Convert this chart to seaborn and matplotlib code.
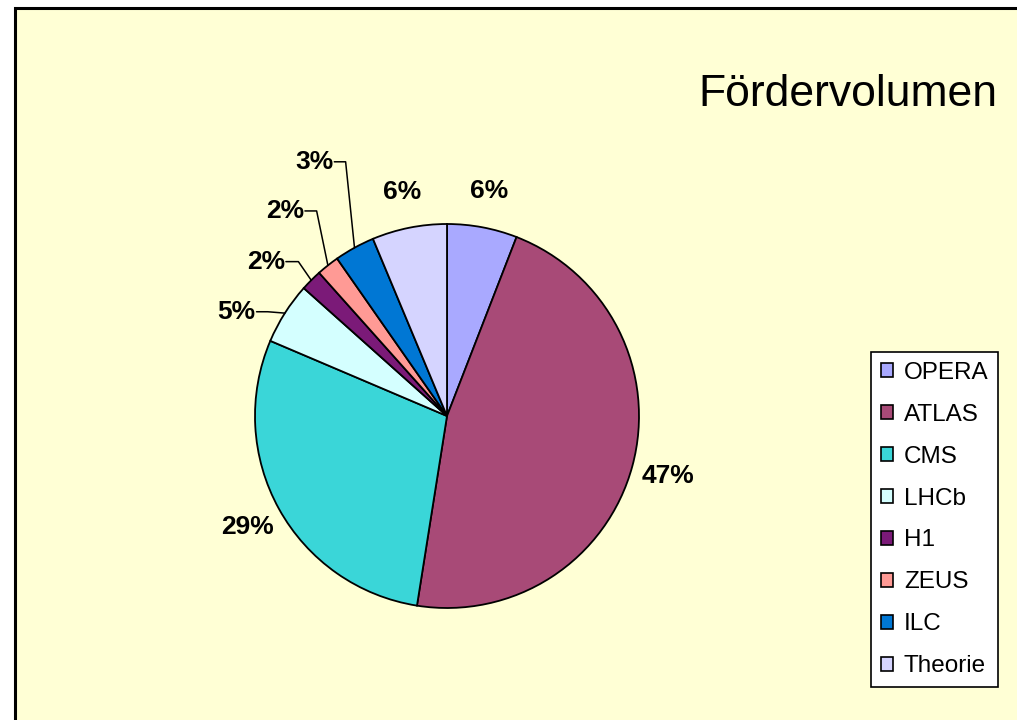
import numpy as np
import matplotlib
matplotlib.use("Agg")
import matplotlib.pyplot as plt
import seaborn as sns
from matplotlib.patches import Patch, Rectangle

# --- DATA ---
projects = ["OPERA", "ATLAS", "CMS", "LHCb", "H1", "ZEUS", "ILC", "Theorie"]
shares = [5.9, 46.6, 28.9, 5.2, 1.8, 1.9, 3.4, 6.3]
colors = ["#A9A9FF", "#A84A77", "#3AD6D8", "#D4FFFF",
          "#7B1A78", "#FF9A95", "#0077D4", "#D5D4FF"]

# label placement (radius along mid angle for big slices, leader lines for small ones)
leader = {
    "LHCb": ((-0.934, 0.543), (-0.997, 0.543)),
    "H1": ((-0.774, 0.804), (-0.844, 0.804)),
    "ZEUS": ((-0.679, 1.068), (-0.745, 1.068)),
    "ILC": ((-0.528, 1.324), (-0.592, 1.324)),
}

sns.set_theme(style="white")
plt.rcParams["font.family"] = ["Liberation Sans", "DejaVu Sans"]
plt.rcParams["text.color"] = "black"
label_font = ["Liberation Sans", "DejaVu Sans"]

W, H = 1017, 720
fig = plt.figure(figsize=(W / 100, H / 100), dpi=100)
fig.patch.set_facecolor("white")

# chart area frame
fig.patches.append(Rectangle((15 / W, -0.05), 1.0, 1 - 8 / H + 0.05,
                             transform=fig.transFigure, facecolor="#FFFFD5",
                             edgecolor="black", linewidth=2.2, zorder=-10))

cx, cy, r = 447, 416, 192
ax = fig.add_axes([(cx - r) / W, (H - cy - r) / H, 2 * r / W, 2 * r / H])
ax.set_facecolor("none")

wedges, _ = ax.pie(shares, colors=colors, startangle=90, counterclock=False,
                   wedgeprops=dict(edgecolor="black", linewidth=1.3))
ax.set_xlim(-1, 1)
ax.set_ylim(-1, 1)
ax.set_aspect("equal")
ax.axis("off")

for w, name, val in zip(wedges, projects, shares):
    theta = np.deg2rad((w.theta1 + w.theta2) / 2)
    txt = f"{round(val):d}%"
    if name in leader:
        elbow, lab = leader[name]
        edge = (np.cos(theta), np.sin(theta))
        ax.plot([edge[0], elbow[0], lab[0] + 0.005], [edge[1], elbow[1], lab[1]],
                color="black", lw=1.1, clip_on=False)
        ax.text(lab[0], lab[1], txt, ha="right", va="center", fontsize=19,
                fontweight="bold", family=label_font)
    else:
        rr = 1.19
        ax.text(rr * np.cos(theta), rr * np.sin(theta), txt, ha="center",
                va="center", fontsize=19, fontweight="bold", family=label_font)

fig.text(997 / W, 1 - 95 / H, "Fördervolumen", ha="right", va="center",
         fontsize=32, color="black")

handles = [Patch(facecolor=c, edgecolor="black", linewidth=1.2) for c in colors]
leg = fig.legend(handles, projects, loc="upper left",
                 bbox_to_anchor=(871 / W, 1 - 352 / H), fontsize=17.5,
                 frameon=True, fancybox=False, edgecolor="black",
                 framealpha=1, facecolor="white", handlelength=0.5,
                 handleheight=0.5, handletextpad=0.45, labelspacing=0.82,
                 borderpad=0.4, borderaxespad=0, labelcolor="black")
leg.get_frame().set_linewidth(1.2)

fig.savefig("out.png", dpi=100)
